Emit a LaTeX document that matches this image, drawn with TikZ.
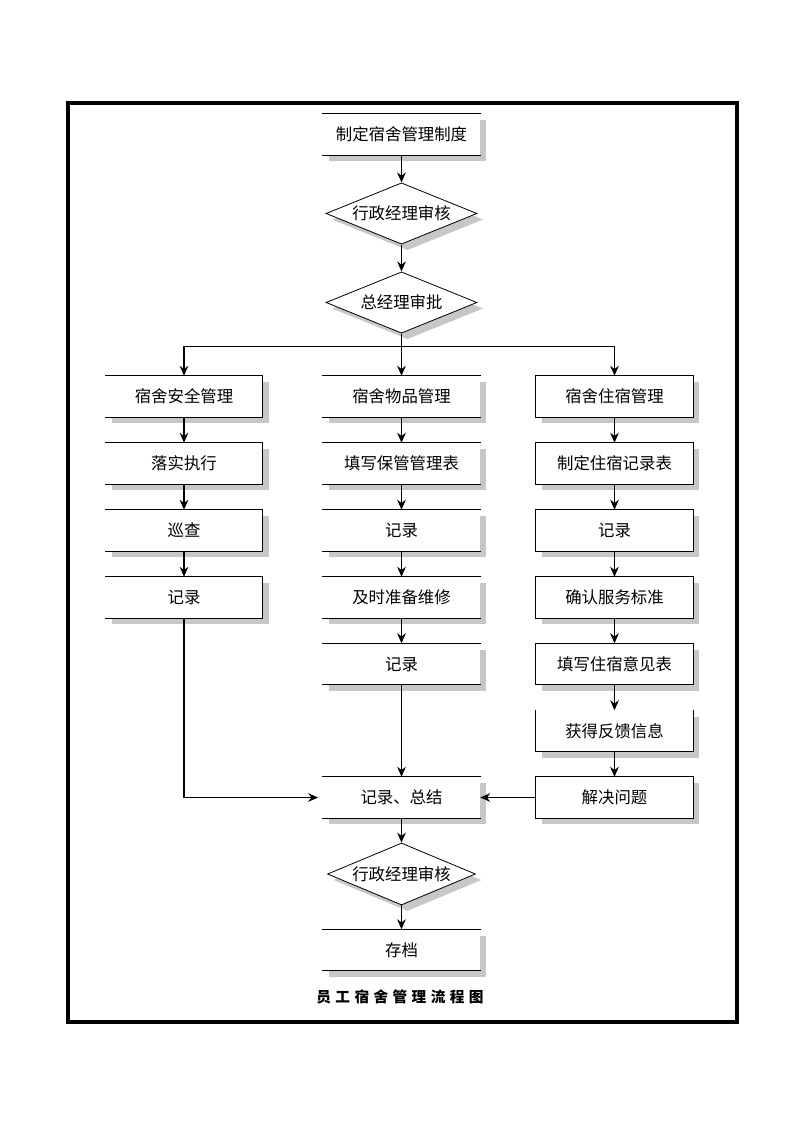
\documentclass[tikz,border=0pt]{standalone}
\usepackage{fontspec}
\newfontfamily\cjk{Noto Sans CJK SC}
\usetikzlibrary{shapes.geometric,arrows.meta,shadows}
\begin{document}
\begin{tikzpicture}[x=0.75pt,y=-0.75pt,
  every node/.style={font=\cjk\fontsize{12.3}{14}\selectfont},
  shad/.style={drop shadow={shadow xshift=4.5pt, shadow yshift=-4.5pt, fill=black!22, opacity=1}},
  box/.style={rectangle, minimum width=117.75pt, minimum height=30.75pt, inner sep=0pt, fill=white, shad},
  dia/.style={diamond, aspect=2.5, minimum width=113.25pt, minimum height=46pt, inner sep=0pt, fill=white, draw=black, line width=0.6pt, shad},
  side/.style={line width=0.75pt, line cap=rect},
  arr/.style={line width=0.8pt, -{Stealth[length=7.5pt,width=6.5pt,inset=2.5pt]}},
  link/.style={line width=0.8pt}]
\useasboundingbox (0,0) rectangle (793,1122);
\draw[line width=2.3pt] (68,103) rectangle (737,1022);

% middle column
\node[box] (t1) at (401.5,134.5) {制定宿舍管理制度};
\node[dia] (d1) at (401.5,213.5) {行政经理审核};
\node[dia] (d2) at (401.5,302.5) {总经理审批};
\coordinate (br) at (401.5,346.5);

\node[box] (l1) at (184,396.5) {宿舍安全管理};
\node[box] (l2) at (184,463.5) {落实执行};
\node[box] (l3) at (184,530.5) {巡查};
\node[box] (l4) at (184,597.5) {记录};

\node[box] (m1) at (401.5,396.5) {宿舍物品管理};
\node[box] (m2) at (401.5,463.5) {填写保管管理表};
\node[box] (m3) at (401.5,530.5) {记录};
\node[box] (m4) at (401.5,597.5) {及时准备维修};
\node[box] (m5) at (401.5,664) {记录};

\node[box] (r1) at (614.5,396.5) {宿舍住宿管理};
\node[box] (r2) at (614.5,463.5) {制定住宿记录表};
\node[box] (r3) at (614.5,530.5) {记录};
\node[box] (r4) at (614.5,597.5) {确认服务标准};
\node[box] (r5) at (614.5,664) {填写住宿意见表};
\node[box] (r6) at (614.5,731) {获得反馈信息};
\node[box] (r7) at (614.5,797.5) {解决问题};

\node[box] (sum) at (401.5,797.5) {记录、总结};
\node[dia, minimum width=111pt, minimum height=46.5pt] (d3) at (401.5,874) {行政经理审核};
\node[box] (fin) at (401.5,950) {存档};

\node[font=\cjk\bfseries\fontsize{11}{13}\selectfont] (title) at (400,997)
  {员\hspace{3.3pt}工\hspace{3.3pt}宿\hspace{3.3pt}舍\hspace{3.3pt}管\hspace{3.3pt}理\hspace{3.3pt}流\hspace{3.3pt}程\hspace{3.3pt}图};

% box sides
\foreach \n in {t1,m1,m2,m3,m4,m5,sum,fin} {
  \draw[side] (\n.north west) -- (\n.north east);
  \draw[side] (\n.south west) -- (\n.south east);
}
\foreach \n in {l1,l2,l3,l4}
  \draw[side] (\n.north west) -- (\n.north east) -- (\n.south east) -- (\n.south west);
\foreach \n in {r1,r2,r3,r4,r5,r7}
  \draw[side] (\n.north west) rectangle (\n.south east);
\draw[side] (r6.north west) -- (r6.south west) -- (r6.south east) -- (r6.north east);

% connectors
\draw[arr] (t1) -- (d1);
\draw[arr] (d1) -- (d2);
\draw[link] (d2.south) -- (br);
\draw[arr] (br) -- (m1);
\draw[arr] (br) -| (l1.north);
\draw[arr] (br) -| (r1.north);
\draw[arr] (l1) -- (l2);
\draw[arr] (l2) -- (l3);
\draw[arr] (l3) -- (l4);
\draw[arr] (m1) -- (m2);
\draw[arr] (m2) -- (m3);
\draw[arr] (m3) -- (m4);
\draw[arr] (m4) -- (m5);
\draw[arr] (r1) -- (r2);
\draw[arr] (r2) -- (r3);
\draw[arr] (r3) -- (r4);
\draw[arr] (r4) -- (r5);
\draw[arr] (r5) -- (r6);
\draw[arr] (r6) -- (r7);
\draw[arr, shorten >=3.5pt] (l4.south) |- (sum.west);
\draw[arr] (m5) -- (sum);
\draw[arr] (r7) -- (sum);
\draw[arr] (sum) -- (d3);
\draw[arr] (d3) -- (fin);
\end{tikzpicture}
\end{document}
